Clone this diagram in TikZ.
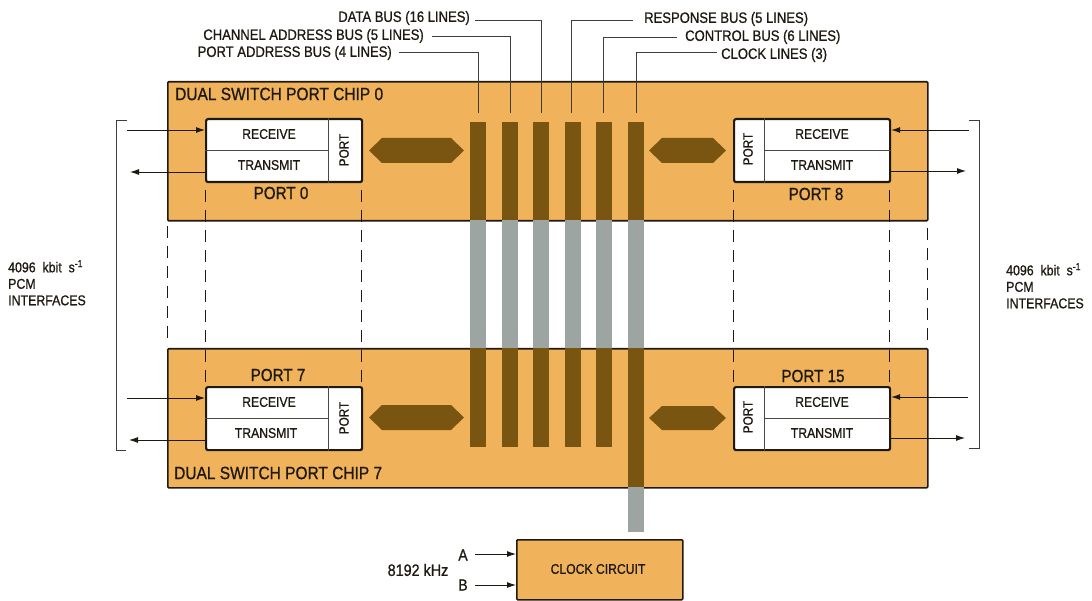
\documentclass[tikz,border=0pt]{standalone}
\usepackage{fontspec}
\setmainfont{Liberation Sans}[FakeStretch=0.87,FakeBold=0.9]
\usetikzlibrary{arrows.meta}
\definecolor{chiporange}{HTML}{F0B25A}
\definecolor{busbrown}{HTML}{7A5512}
\definecolor{busgrey}{HTML}{9CA5A2}
\definecolor{inkdark}{HTML}{1E1A12}
\tikzset{
  lbl/.style={inner sep=0pt,text=inkdark,font=\fontsize{15}{17}\selectfont},
  cellbl/.style={lbl,font=\fontsize{14}{16}\selectfont},
  portlbl/.style={lbl,font=\fontsize{17.5}{19}\selectfont},
  vertlbl/.style={lbl,rotate=90,font=\fontsize{13.5}{15}\selectfont},
  titlelbl/.style={lbl,anchor=west,font=\fontsize{17.8}{20}\selectfont},
  iflbl/.style={lbl,anchor=north west,align=left,font=\fontsize{14.2}{16.5}\selectfont},
  chipbox/.style={draw=inkdark,line width=1.6pt,fill=chiporange,rounded corners=1pt,anchor=north west,inner sep=0pt,minimum width=760pt,minimum height=139pt},
  portbox/.style={draw=inkdark,line width=2.2pt,fill=white,rounded corners=2pt,anchor=north west,inner sep=0pt,minimum width=156pt,minimum height=63pt},
  brownbar/.style={fill=busbrown,anchor=north west,inner sep=0pt,minimum width=16pt},
  greybar/.style={fill=busgrey,anchor=north west,inner sep=0pt,minimum width=16pt},
  divider/.style={draw=inkdark!80,line width=0.8pt},
  lead/.style={draw=inkdark!85,line width=0.8pt},
  sig/.style={draw=inkdark,line width=0.9pt,-{Latex[length=9pt,width=6pt]}},
  bound/.style={draw=inkdark,line width=1pt,dash pattern=on 12pt off 8pt},
  hexa/.style={fill=busbrown},
}
\begin{document}
\begin{tikzpicture}[x=1pt,y=-1pt]
\useasboundingbox (0,0) rectangle (1092,601);
% chips
\node[chipbox] (chip0) at (167,81) {};
\node[chipbox] (chip7) at (167,348) {};
\node[chipbox,minimum width=166pt,minimum height=60pt] (clk) at (516,539) {};
% buses
\foreach \n/\x in {1/470,2/502,3/533,4/565,5/596,6/628}{
  \node[greybar,minimum height=128pt] (g\n) at (\x,220) {};
  \node[brownbar,minimum height=98pt] (t\n) at (\x,122) {};
}
\foreach \n/\x in {1/470,2/502,3/533,4/565,5/596}{
  \node[brownbar,minimum height=99pt] (b\n) at (\x,348) {};
}
\node[brownbar,minimum height=139pt] (b6) at (628,348) {};
\node[greybar,minimum height=45pt] (g7) at (628,487) {};
% bus labels and leads
\node[lbl,anchor=east] (ldata) at (470,18) {DATA BUS (16 LINES)};
\node[lbl,anchor=east] (lchan) at (424,36) {CHANNEL ADDRESS BUS (5 LINES)};
\node[lbl,anchor=east] (lport) at (392,53) {PORT ADDRESS BUS (4 LINES)};
\node[lbl,anchor=west] (lresp) at (644,19) {RESPONSE BUS (5 LINES)};
\node[lbl,anchor=west] (lctrl) at (685,37) {CONTROL BUS (6 LINES)};
\node[lbl,anchor=west] (lclock) at (721,55) {CLOCK LINES (3)};
\coordinate (e1) at (478,113); \coordinate (e2) at (510,113); \coordinate (e3) at (541,113);
\coordinate (e4) at (571,113); \coordinate (e5) at (603,113); \coordinate (e6) at (636,113);
\coordinate (s1) at (399,52); \coordinate (s2) at (432,36); \coordinate (s3) at (475,20);
\coordinate (s4) at (633,20); \coordinate (s5) at (677,37); \coordinate (s6) at (717,52);
\foreach \n in {1,...,6}{\draw[lead] (s\n) -| (e\n);}
% chip titles
\node[titlelbl] (t0) at (175,94) {DUAL SWITCH PORT CHIP 0};
\node[titlelbl] (t7) at (174,473) {DUAL SWITCH PORT CHIP 7};
% hexagons
\fill[hexa] (369,150.5)--(382,138)--(451,138)--(464,150.5)--(451,163)--(382,163)--cycle;
\fill[hexa] (649,150.5)--(662,138)--(713,138)--(726,150.5)--(713,163)--(662,163)--cycle;
\fill[hexa] (369,417.5)--(382,405)--(451,405)--(464,417.5)--(451,430)--(382,430)--cycle;
\fill[hexa] (649,418)--(662,406)--(713,406)--(726,418)--(713,430)--(662,430)--cycle;
% dashed boundaries
\coordinate (d0a) at (167,226); \coordinate (d0b) at (167,346);
\coordinate (d1a) at (205,190); \coordinate (d1b) at (205,382);
\coordinate (d2a) at (361,190); \coordinate (d2b) at (361,382);
\coordinate (d3a) at (733,190); \coordinate (d3b) at (733,382);
\coordinate (d4a) at (889,190); \coordinate (d4b) at (889,382);
\coordinate (d5a) at (927,228); \coordinate (d5b) at (927,346);
\foreach \n in {0,...,5}{\draw[bound] (d\n a) -- (d\n b);}
% ports
\node[portbox] (port0) at (205,118) {};
\draw[divider] (port0.north west)++(123,0) coordinate (v0) -- (v0 |- port0.south);
\draw[divider] (port0.west) -- (v0 |- port0.west);
\node[cellbl] (r0) at (269,134) {RECEIVE};
\node[cellbl] (x0) at (269,165) {TRANSMIT};
\node[vertlbl] (p0) at (344,150) {PORT};
\node[portlbl] (n0) at (281,193) {PORT 0};

\node[portbox] (port8) at (733,118) {};
\draw[divider] (port8.north west)++(31,0) coordinate (v8) -- (v8 |- port8.south);
\draw[divider] (v8 |- port8.east) -- (port8.east);
\node[cellbl] (r8) at (822,134) {RECEIVE};
\node[cellbl] (x8) at (822,165) {TRANSMIT};
\node[vertlbl] (p8) at (748,149) {PORT};
\node[portlbl] (n8) at (816,194) {PORT 8};

\node[portbox] (port7) at (205,386) {};
\draw[divider] (port7.north west)++(123,0) coordinate (v7) -- (v7 |- port7.south);
\draw[divider] (port7.west) -- (v7 |- port7.west);
\node[cellbl] (r7) at (269,402) {RECEIVE};
\node[cellbl] (x7) at (266,433) {TRANSMIT};
\node[vertlbl] (p7) at (344,418) {PORT};
\node[portlbl] (n7) at (278,375) {PORT 7};

\node[portbox] (port15) at (733,386) {};
\draw[divider] (port15.north west)++(31,0) coordinate (v15) -- (v15 |- port15.south);
\draw[divider] (v15 |- port15.east) -- (port15.east);
\node[cellbl] (r15) at (822,402) {RECEIVE};
\node[cellbl] (x15) at (822,433) {TRANSMIT};
\node[vertlbl] (p15) at (748,417) {PORT};
\node[portlbl] (n15) at (813,376) {PORT 15};
% interface arrows
\coordinate (a0) at (127,130); \coordinate (a1) at (130,172);
\coordinate (a2) at (127,398); \coordinate (a3) at (129,440);
\coordinate (a4) at (969,130); \coordinate (a5) at (966,171);
\coordinate (a6) at (968,397); \coordinate (a7) at (965,438);
\draw[sig] (a0) -- (a0 -| port0.west);
\draw[sig] (a1 -| port0.west) -- (a1);
\draw[sig] (a2) -- (a2 -| port7.west);
\draw[sig] (a3 -| port7.west) -- (a3);
\draw[sig] (a4) -- (a4 -| port8.east);
\draw[sig] (a5 -| port8.east) -- (a5);
\draw[sig] (a6) -- (a6 -| port15.east);
\draw[sig] (a7 -| port15.east) -- (a7);
% brackets
\coordinate (bl1) at (127,120); \coordinate (bl2) at (116,120); \coordinate (bl3) at (116,450); \coordinate (bl4) at (126,450);
\coordinate (br1) at (969,120); \coordinate (br2) at (979,120); \coordinate (br3) at (979,448); \coordinate (br4) at (969,448);
\draw[lead] (bl1) -- (bl2) -- (bl3) -- (bl4);
\draw[lead] (br1) -- (br2) -- (br3) -- (br4);
% interface labels
\node[iflbl] (ifl) at (8,260) {4096\ \ kbit\ \ s\textsuperscript{-1}\\PCM\\INTERFACES};
\node[iflbl] (ifr) at (1006,263) {4096\ \ kbit\ \ s\textsuperscript{-1}\\PCM\\INTERFACES};
% clock
\node[cellbl] (clkt) at (598,569) {CLOCK CIRCUIT};
\node[lbl,font=\fontsize{16}{18}\selectfont] (ka) at (463,555) {A};
\node[lbl,font=\fontsize{16}{18}\selectfont] (kb) at (463,585) {B};
\node[lbl,font=\fontsize{16.5}{18}\selectfont] (kf) at (418,570) {8192 kHz};
\coordinate (ca) at (475,554); \coordinate (cb) at (475,585);
\draw[sig] (ca) -- (ca -| clk.west);
\draw[sig] (cb) -- (cb -| clk.west);
\end{tikzpicture}
\end{document}
